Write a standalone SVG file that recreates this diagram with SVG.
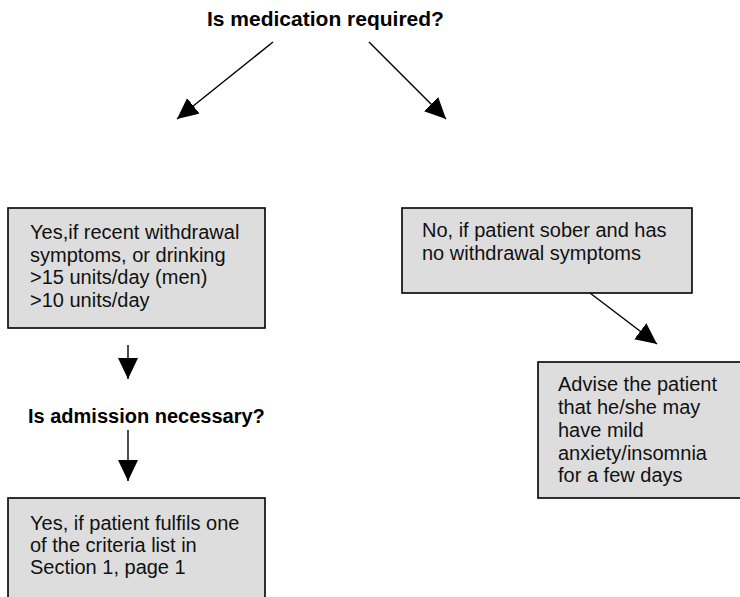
<svg xmlns="http://www.w3.org/2000/svg" width="740" height="597" viewBox="0 0 740 597">
  <style>
    .box { fill: #dddddd; stroke: #000000; stroke-width: 1.6; }
    .txt { font-family: "Liberation Sans", Arial, sans-serif; font-size: 20px; fill: #111111; }
    .q { font-family: "Liberation Sans", Arial, sans-serif; font-size: 20px; font-weight: bold; fill: #000000; }
    .conn { stroke: #000000; stroke-width: 1.4; fill: none; marker-end: url(#head); }
  </style>
  <defs>
    <marker id="head" markerUnits="userSpaceOnUse" markerWidth="22" markerHeight="22" refX="21" refY="10" orient="auto">
      <path d="M0,0 L21,10 L0,20 Z" fill="#000000"/>
    </marker>
  </defs>
  <rect width="740" height="597" fill="#ffffff"/>

  <!-- question: medication -->
  <g id="q-medication">
    <text class="q" x="207" y="26" style="font-size:21px">Is medication required?</text>
  </g>

  <!-- yes branch: medication -->
  <g id="yes-medication">
    <rect class="box" x="8" y="208" width="257" height="120"/>
    <text class="txt" x="30" y="239">Yes,if recent withdrawal</text>
    <text class="txt" x="30" y="261.5">symptoms, or drinking</text>
    <text class="txt" x="30" y="284">&gt;15 units/day (men)</text>
    <text class="txt" x="30" y="306.5">&gt;10 units/day</text>
  </g>

  <!-- no branch: medication -->
  <g id="no-medication">
    <rect class="box" x="402" y="208" width="290" height="85"/>
    <text class="txt" x="422" y="237">No, if patient sober and has</text>
    <text class="txt" x="422" y="259.5">no withdrawal symptoms</text>
  </g>

  <!-- advice -->
  <g id="advice">
    <rect class="box" x="538" y="362" width="210" height="136"/>
    <text class="txt" x="558" y="391">Advise the patient</text>
    <text class="txt" x="558" y="414">that he/she may</text>
    <text class="txt" x="558" y="437">have mild</text>
    <text class="txt" x="558" y="459.5">anxiety/insomnia</text>
    <text class="txt" x="558" y="482">for a few days</text>
  </g>

  <!-- question: admission -->
  <g id="q-admission">
    <text class="q" x="28" y="423">Is admission necessary?</text>
  </g>

  <!-- yes branch: admission -->
  <g id="yes-admission">
    <rect class="box" x="8" y="498" width="257" height="110"/>
    <text class="txt" x="30" y="529.5">Yes, if patient fulfils one</text>
    <text class="txt" x="30" y="552">of the criteria list in</text>
    <text class="txt" x="30" y="574">Section 1, page 1</text>
  </g>

  <!-- connectors -->
  <g id="connectors">
    <line class="conn" x1="273" y1="42" x2="177" y2="119"/>
    <line class="conn" x1="369" y1="42" x2="446" y2="119"/>
    <line class="conn" x1="590" y1="293" x2="657" y2="344"/>
    <line class="conn" x1="128" y1="345" x2="128" y2="379"/>
    <line class="conn" x1="128" y1="430" x2="128" y2="481"/>
  </g>
</svg>
